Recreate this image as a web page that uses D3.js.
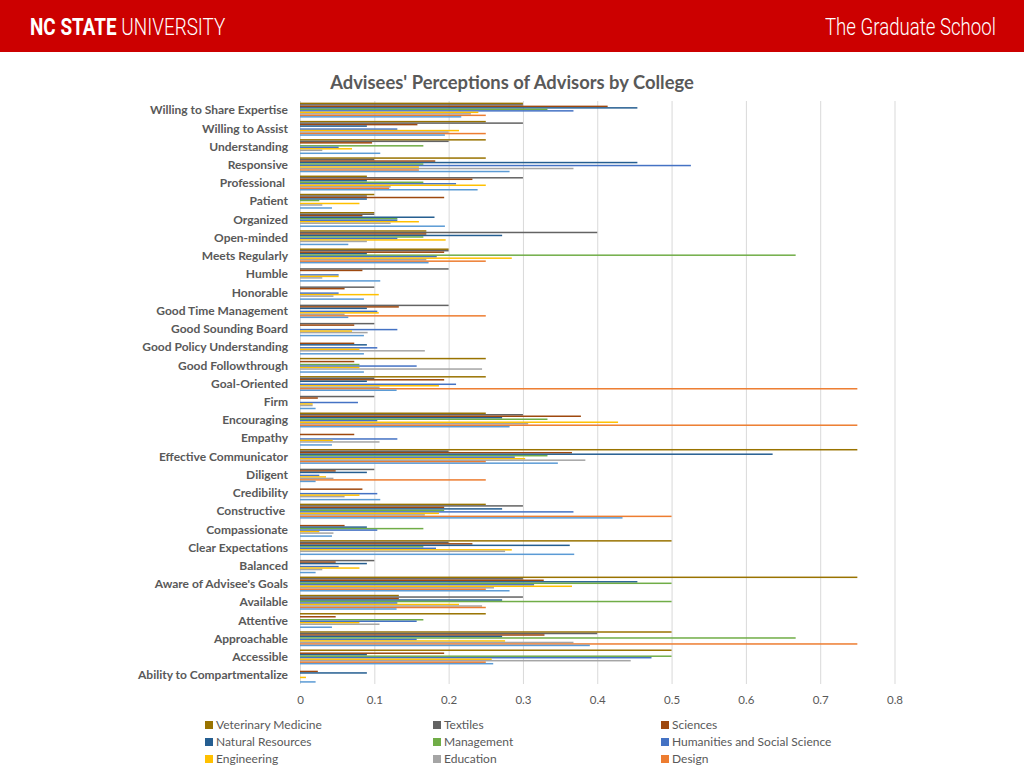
<!DOCTYPE html>
<html><head><meta charset="utf-8">
<script src="https://cdn.jsdelivr.net/npm/d3@7"></script>
<style>body{margin:0;background:#fff;overflow:hidden} svg{display:block}</style>
</head><body><svg id="c" width="1024" height="768"></svg>
<script>
// Categories, top to bottom as displayed
const categories = ["Willing to Share Expertise","Willing to Assist","Understanding","Responsive","Professional ","Patient","Organized","Open-minded","Meets Regularly","Humble","Honorable","Good Time Management","Good Sounding Board","Good Policy Understanding","Good Followthrough","Goal-Oriented","Firm","Encouraging","Empathy","Effective Communicator","Diligent","Credibility","Constructive ","Compassionate","Clear Expectations","Balanced","Aware of Advisee's Goals","Available","Attentive","Approachable","Accessible","Ability to Compartmentalize"];

// Series (colleges) in drawing order within each group, top to bottom
const colleges = ["Veterinary Medicine","Textiles","Sciences","Natural Resources","Management","Humanities and Social Science","Engineering","Education","Design","Agriculture and Life Sciences"];
const colors = ["#997300","#636363","#9E480E","#255E91","#70AD47","#4472C4","#FFC000","#A5A5A5","#ED7D31","#5B9BD5"];

const veterinaryMedicine = [0.3,0.25,0.25,0.25,0.09,0.1,0.1,0.17,0.2,0,0,0,0,0,0.25,0.25,0,0.25,0,0.75,0,0,0.25,0,0.5,0,0.75,0.133,0.25,0.5,0.5,0];
const textiles           = [0.3,0.3,0.2,0.1,0.3,0.09,0.1,0.4,0.2,0.2,0.1,0.2,0.1,0,0,0.1,0.1,0.3,0,0.2,0.1,0,0.3,0,0.2,0.1,0.3,0.3,0,0.4,0,0];
const sciences           = [0.414,0.158,0.097,0.182,0.232,0.194,0.084,0.17,0.194,0.084,0.06,0.133,0.073,0.073,0.073,0.194,0.024,0.378,0.073,0.366,0.048,0.084,0.194,0.06,0.232,0.048,0.328,0.133,0.048,0.329,0.194,0.024];
const naturalResources   = [0.454,0.09,0,0.454,0.09,0.09,0.181,0.272,0.09,0,0,0.09,0,0.09,0,0.09,0,0.272,0,0.636,0.09,0,0.272,0.09,0.363,0.09,0.454,0.272,0,0.272,0.09,0.09];
const management         = [0.333,0,0.166,0.166,0.166,0.026,0.131,0.166,0.667,0,0,0,0,0,0.08,0,0,0.333,0,0.333,0,0,0.194,0.166,0.166,0,0.5,0.5,0.166,0.667,0.5,0];
const humanities         = [0.368,0.131,0.052,0.526,0.21,0,0.131,0.131,0.184,0.052,0.052,0.104,0.131,0.104,0.157,0.21,0.078,0.104,0.131,0.289,0.026,0.104,0.368,0.104,0.183,0.052,0.315,0.131,0.157,0.157,0.473,0];
const engineering        = [0.24,0.214,0.07,0.16,0.25,0.08,0.16,0.196,0.285,0.052,0.106,0.106,0.07,0.08,0.08,0.187,0.017,0.428,0.044,0.303,0.035,0.08,0.187,0.026,0.285,0.08,0.366,0.214,0.08,0.276,0.258,0.008];
const education          = [0.23,0.2,0.03,0.368,0.122,0.03,0.122,0.09,0.17,0.03,0.045,0.06,0.091,0.168,0.245,0.107,0.017,0.307,0.107,0.384,0.045,0.06,0.168,0.045,0.276,0.03,0.261,0.245,0.107,0.368,0.445,0];
const design             = [0.25,0.25,0,0.16,0.12,0,0,0,0.25,0,0,0.25,0,0,0,0.75,0,0.75,0,0.25,0.25,0,0.5,0,0,0,0.25,0.25,0,0.75,0.25,0];
const agriculture        = [0.217,0.195,0.108,0.282,0.239,0.043,0.195,0.065,0.173,0.108,0.086,0.065,0.086,0.086,0.086,0.13,0.021,0.282,0.043,0.347,0.021,0.108,0.434,0.043,0.369,0.021,0.282,0.13,0.043,0.39,0.26,0.021];

const seriesValues = [veterinaryMedicine,textiles,sciences,naturalResources,management,humanities,engineering,education,design,agriculture];
const xTicks = [0,0.1,0.2,0.3,0.4,0.5,0.6,0.7,0.8];
const legendCount = 9; // the fourth legend row falls below the visible page

const svg = d3.select("#c");
const textCol = "#595959";

// Header band
svg.append("rect").attr("x",0).attr("y",0).attr("width",1024).attr("height",52).attr("fill","#CC0000");
function fitText(x0, target, build){
  const t = svg.append("text").attr("x",0).attr("y",0).attr("fill","#fff")
    .attr("font-family","Roboto, 'Liberation Sans', sans-serif").attr("font-size",24);
  build(t);
  const w = t.node().getBBox().width;
  t.attr("transform",`translate(${x0},35) scale(${target/w},1)`);
}
fitText(30, 196, t=>{
  t.append("tspan").attr("font-weight",700).text("NC STATE");
  t.append("tspan").attr("font-weight",300).text(" UNIVERSITY");
});
fitText(825, 171, t=>t.attr("font-weight",300).text("The Graduate School"));

// Title
svg.append("text").attr("x",512).attr("y",89).attr("text-anchor","middle").attr("fill",textCol)
  .attr("font-family","Lato, 'Open Sans', sans-serif").attr("font-weight","bold").attr("font-size",18.4)
  .text("Advisees' Perceptions of Advisors by College");

// Scales
const x = d3.scaleLinear().domain([0,0.8]).range([300,894.5]);
const y = d3.scaleBand().domain(categories).range([101,684.3]).paddingInner(0.18).paddingOuter(0.09);
const yInner = d3.scaleBand().domain(colleges).range([0,y.bandwidth()]);

// Gridlines
svg.append("g").selectAll("line").data(xTicks).join("line")
  .attr("x1",d=>x(d)+0.5).attr("x2",d=>x(d)+0.5).attr("y1",101).attr("y2",684)
  .attr("stroke","#D9D9D9").attr("stroke-width",1);

// Bars
const rows = [];
categories.forEach((c,i)=>colleges.forEach((s,j)=>rows.push({c,s,j,v:seriesValues[j][i]})));
svg.append("g").selectAll("rect").data(rows.filter(d=>d.v>0)).join("rect")
  .attr("x",x(0)).attr("y",d=>y(d.c)+yInner(d.s))
  .attr("width",d=>x(d.v)-x(0)).attr("height",yInner.bandwidth())
  .attr("fill",d=>colors[d.j]);

// Category labels
svg.append("g").selectAll("text").data(categories).join("text")
  .attr("x",288).attr("y",d=>y(d)+y.bandwidth()/2).attr("dy","0.35em")
  .attr("text-anchor","end").attr("fill",textCol).attr("font-family","Lato, sans-serif")
  .attr("font-weight","bold").attr("font-size",12).style("white-space","pre").text(d=>d);

// X axis labels
const xAxis = d3.axisBottom(x).tickValues(xTicks).tickSize(0).tickPadding(0).tickFormat(d=>d===0?"0":d3.format(".1f")(d));
const gx = svg.append("g").attr("transform","translate(0,696)").call(xAxis);
gx.select(".domain").remove();
gx.selectAll("text").attr("fill",textCol).attr("font-family","Lato, sans-serif").attr("font-size",11.5);

// Legend
const legX = [205,433,661], legY = [725,742,759];
const leg = svg.append("g").selectAll("g").data(colleges.slice(0,legendCount)).join("g")
  .attr("transform",(d,i)=>`translate(${legX[i%3]},${legY[Math.floor(i/3)]})`);
leg.append("rect").attr("x",0).attr("y",-4).attr("width",8).attr("height",8).attr("fill",(d,i)=>colors[i]);
leg.append("text").attr("x",11).attr("y",0).attr("dy","0.35em").attr("fill",textCol)
  .attr("font-family","Lato, sans-serif").attr("font-size",12).text(d=>d);
</script></body></html>
